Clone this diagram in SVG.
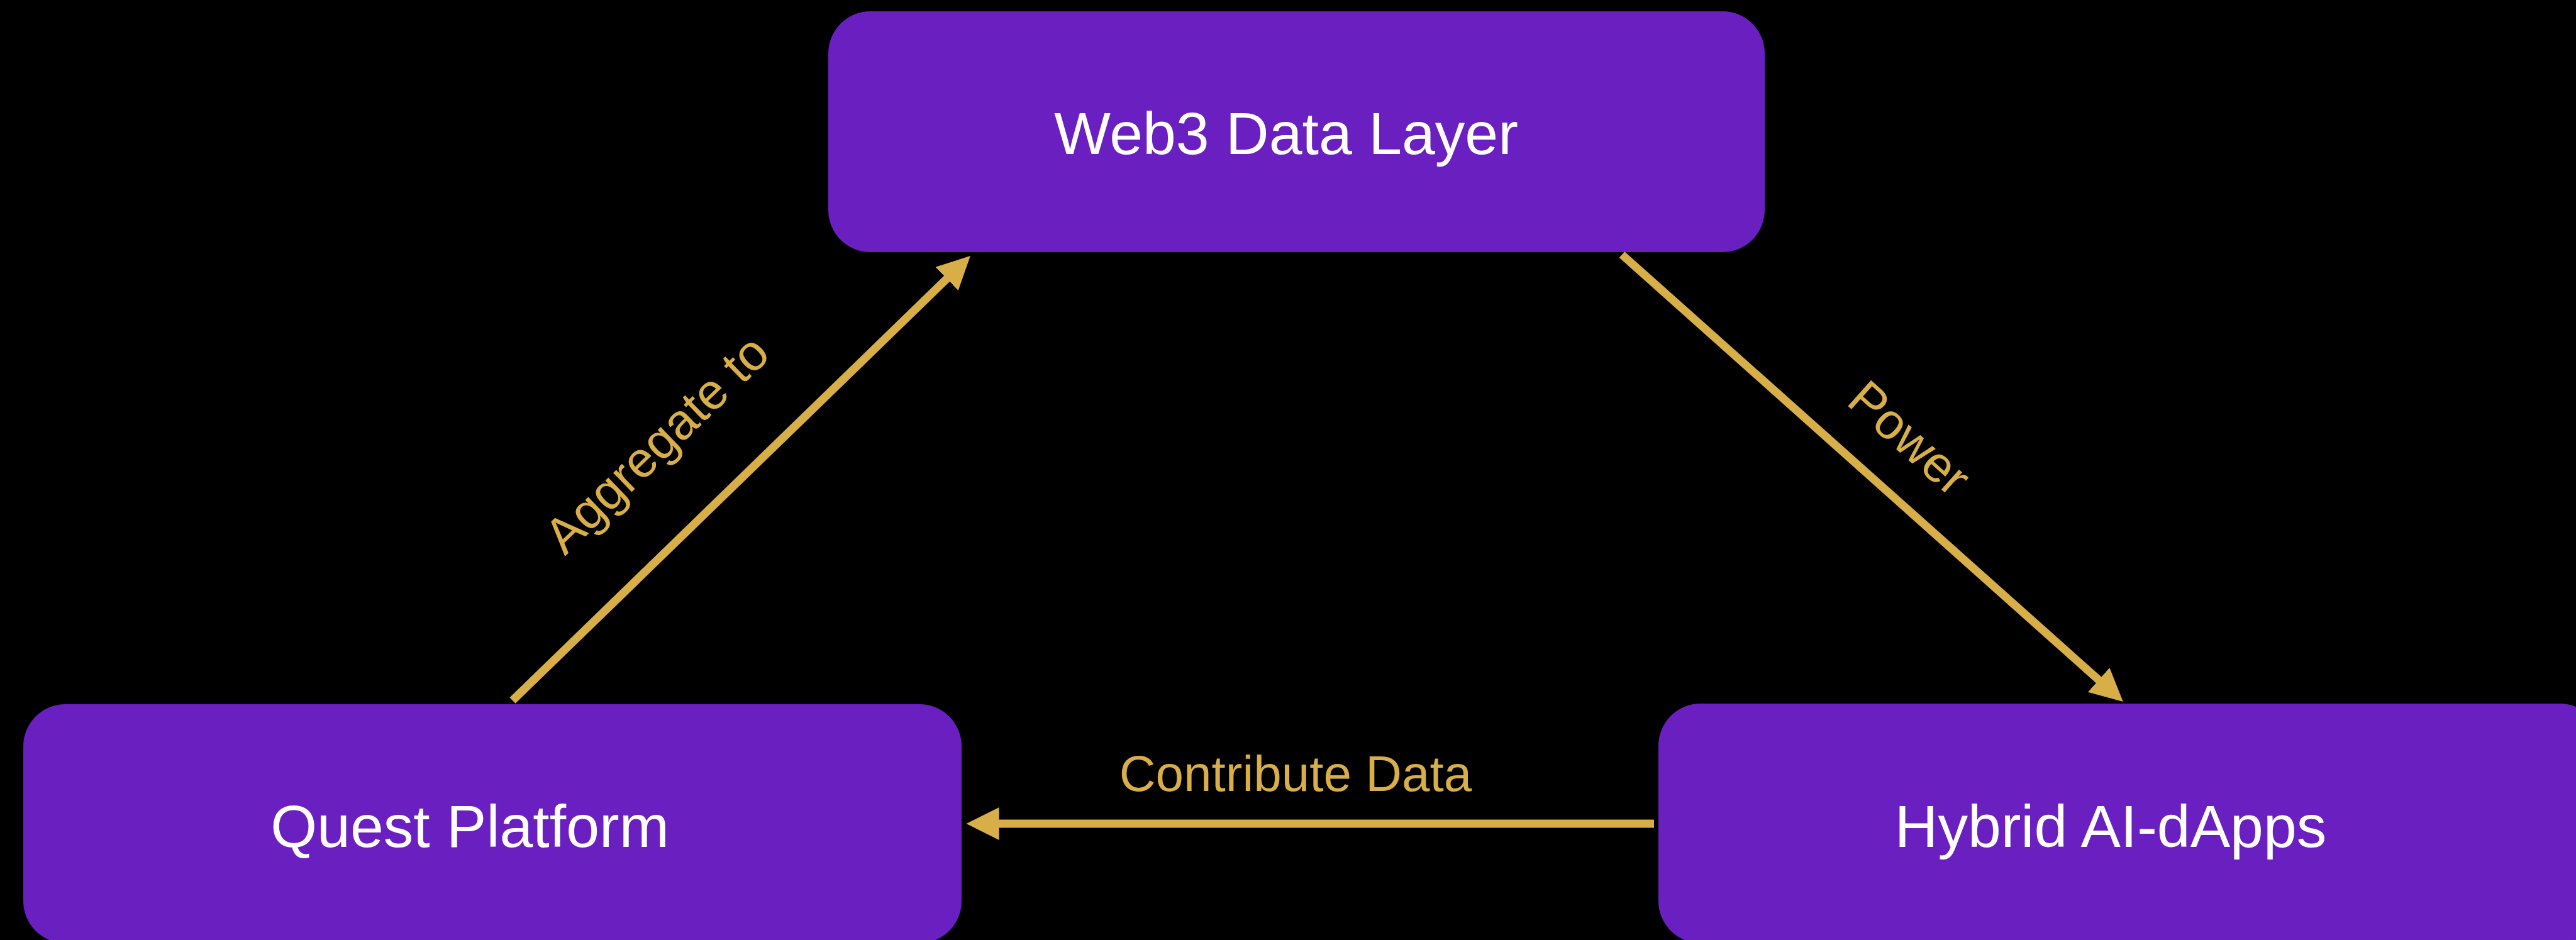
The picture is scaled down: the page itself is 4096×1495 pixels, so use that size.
<svg xmlns="http://www.w3.org/2000/svg" width="4096" height="1495" viewBox="0 0 4096 1495">
  <style>
    .node { fill: #6A20C0; }
    .ntext { fill: #FFFFFF; font-family: "Liberation Sans", Arial, sans-serif; font-size: 95px; text-anchor: middle; }
    .edge { stroke: #D8AE48; stroke-width: 13; fill: none; }
    .elabel { fill: #D8AE48; font-family: "Liberation Sans", Arial, sans-serif; font-size: 80px; text-anchor: middle; }
  </style>
  <defs>
    <marker id="arrow" viewBox="0 0 10 10" refX="0.3" refY="5" markerWidth="4" markerHeight="4" orient="auto" markerUnits="strokeWidth">
      <path d="M0,0 L10,5 L0,10 z" fill="#D8AE48"/>
    </marker>
  </defs>
  <rect x="0" y="0" width="4096" height="1495" fill="#000000"/>

  <g id="web3-data-layer">
    <rect class="node" x="1317" y="18" width="1489" height="383" rx="67" ry="67"/>
    <text class="ntext" x="2045" y="245">Web3 Data Layer</text>
  </g>

  <g id="quest-platform">
    <rect class="node" x="37" y="1120" width="1492" height="380" rx="67" ry="67"/>
    <text class="ntext" x="747" y="1347">Quest Platform</text>
  </g>

  <g id="hybrid-ai-dapps">
    <rect class="node" x="2637" y="1119" width="1500" height="381" rx="67" ry="67"/>
    <text class="ntext" x="3356" y="1347">Hybrid AI-dApps</text>
  </g>

  <g id="connectors">
    <line class="edge" x1="815" y1="1114" x2="1506.7" y2="442.2" marker-end="url(#arrow)"/>
    <line class="edge" x1="2579" y1="405" x2="3338.2" y2="1082.4" marker-end="url(#arrow)"/>
    <line class="edge" x1="2630" y1="1310" x2="1587" y2="1310" marker-end="url(#arrow)"/>
    <text class="elabel" transform="translate(1063,726) rotate(-44)">Aggregate to</text>
    <text class="elabel" transform="translate(3018,717) rotate(41.8)">Power</text>
    <text class="elabel" x="2060" y="1258">Contribute Data</text>
  </g>
</svg>
